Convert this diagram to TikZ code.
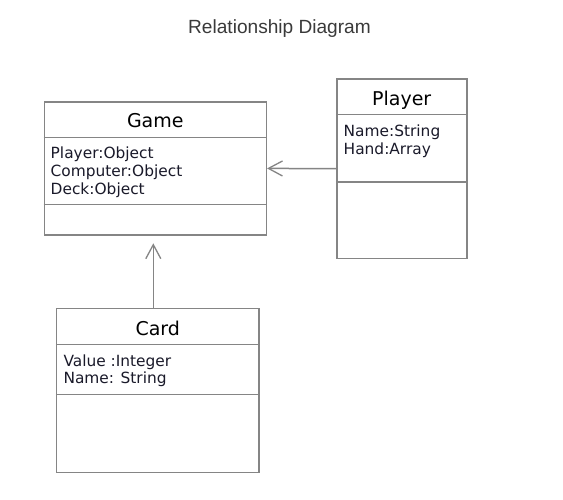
\documentclass[tikz,border=0pt]{standalone}
\usepackage{fontspec}
\setmainfont{DejaVu Sans}
\newfontfamily\titlefont{Liberation Sans}
\usetikzlibrary{arrows.meta}
\definecolor{linegray}{HTML}{858585}
\definecolor{titlegray}{HTML}{3A3A3A}
\definecolor{attrcol}{HTML}{1A1A2A}
\begin{document}
\begin{tikzpicture}[x=1pt,y=-1pt,
  classbox/.style={draw=linegray, line width=1.6pt, fill=white, inner sep=0pt},
  divider/.style={draw=linegray, line width=1.6pt},
  header/.style={anchor=base, inner sep=0pt, font=\fontsize{19}{21}\selectfont, text=black},
  attr/.style={anchor=base west, inner sep=0pt, font=\fontsize{15.4}{17}\selectfont, text=attrcol},
  assoc/.style={draw=linegray, line width=1.5pt, -{Straight Barb[length=14pt,width=15pt,line width=1.3pt]}}
]
\useasboundingbox (0,0) rectangle (563,499);
\fill[white] (0,0) rectangle (563,499);

% title
\node[anchor=base, inner sep=0pt, font=\titlefont\fontsize{19.1}{21}\selectfont, text=titlegray] (title) at (279.5,33) {Relationship Diagram};

% Game
\node[classbox, minimum width=222pt, minimum height=133pt] (game) at (155.3,168.4) {};
\draw[divider] (game.west |- 0,137.3) -- (game.east |- 0,137.3);
\draw[divider] (game.west |- 0,204.3) -- (game.east |- 0,204.3);
\node[header] (gamename) at (155.3,127.3) {Game};
\node[attr] (gamea1) at (50.5,158.3) {Player:Object};
\node[attr] (gamea2) at (50.5,176.6) {Computer:Object};
\node[attr] (gamea3) at (50.5,194.6) {Deck:Object};

% Player
\node[classbox, minimum width=130pt, minimum height=179.3pt] (player) at (401.7,168.7) {};
\draw[divider] (player.west |- 0,114.3) -- (player.east |- 0,114.3);
\draw[divider] (player.west |- 0,181.7) -- (player.east |- 0,181.7);
\node[header] (playername) at (401.7,105.2) {Player};
\node[attr] (playera1) at (343.5,136.7) {Name:String};
\node[attr] (playera2) at (343.5,154.0) {Hand:Array};

% Card
\node[classbox, minimum width=202.3pt, minimum height=164pt] (card) at (157.8,390.3) {};
\draw[divider] (card.west |- 0,344.3) -- (card.east |- 0,344.3);
\draw[divider] (card.west |- 0,394.3) -- (card.east |- 0,394.3);
\node[header] (cardname) at (157.8,335.2) {Card};
\node[attr] (carda1) at (63.3,366) {Value :Integer};
\node[attr] (carda2) at (63.3,383.6) {Name: String};

% connectors
\draw[assoc] (player.west) -- (game.east);
\coordinate (gametip) at (153.3,243.3);
\draw[assoc] (card.north -| gametip) -- (gametip);
\end{tikzpicture}
\end{document}
